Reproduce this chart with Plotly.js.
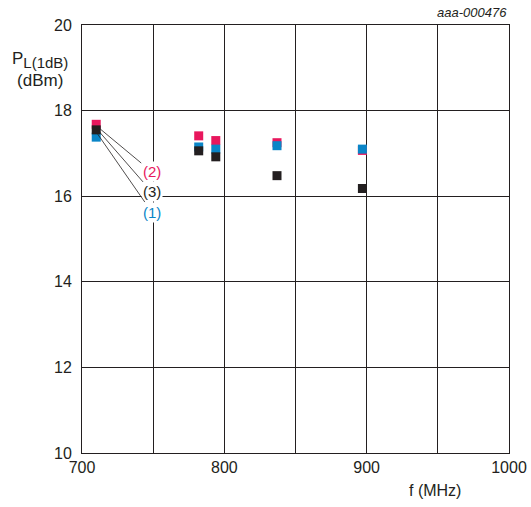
<!DOCTYPE html>
<html><head><meta charset="utf-8">
<script src="https://cdn.plot.ly/plotly-3.0.1.min.js"></script>
<style>body{margin:0;background:#fff}#c{width:531px;height:507px}</style>
</head><body><div id="c"></div>
<script>
const freq = [710, 782, 794, 837, 897];
const series1 = [17.38, 17.15, 17.10, 17.18, 17.10]; // (1) blue
const series2 = [17.68, 17.41, 17.30, 17.25, 17.07]; // (2) pink
const series3 = [17.55, 17.06, 16.92, 16.48, 16.18]; // (3) black
const labels = ['(2)', '(3)', '(1)'];
const labelY = [16.57, 16.10, 15.63];
const labelX = 749;
const colors = {s1:'#0a85c7', s2:'#e8175d', s3:'#231f20'};
const FF = 'Liberation Sans, Arial, sans-serif';

const mk = (y, c, n) => ({x: freq, y: y, type:'scatter', mode:'markers', name:n,
  marker:{symbol:'square', size:9, color:c, line:{width:0}}, cliponaxis:false});

const data = [mk(series2, colors.s2, '(2)'), mk(series1, colors.s1, '(1)'), mk(series3, colors.s3, '(3)')];

const labColors = [colors.s2, colors.s3, colors.s1];
const headY = [17.62, 17.55, 17.45];
const annotations = labels.map((t,i)=>({
  x: 711, y: headY[i], xref:'x', yref:'y', ax: labelX, ay: labelY[i], axref:'x', ayref:'y',
  text: t, showarrow:true, arrowhead:0, arrowwidth:0.8, arrowcolor:'#231f20',
  font:{family:FF, size:15, color:labColors[i]},
  bgcolor:'#fff', borderpad:1
}));
annotations.push(
  {xref:'paper', yref:'paper', x:1.0, y:1.0, yshift:13, xanchor:'right', yanchor:'middle', showarrow:false,
   text:'<i>aaa-000476</i>', font:{family:FF, size:13, color:'#231f20'}},
  {xref:'paper', yref:'paper', x:0, xshift:-12, y:0.895, xanchor:'right', yanchor:'middle', showarrow:false, align:'center',
   text:'P<sub><span style="font-size:15px">L(1dB)</span></sub><br>(dBm)', font:{family:FF, size:17, color:'#231f20'}},
  {xref:'paper', yref:'paper', x:0.827, y:0, yshift:-48, xanchor:'center', yanchor:'bottom', showarrow:false,
   text:'f (MHz)', font:{family:FF, size:16, color:'#231f20'}}
);

const ax = {showline:true, mirror:true, linecolor:'#231f20', linewidth:1, gridcolor:'#231f20', gridwidth:1,
  zeroline:false, ticks:'', tickfont:{family:FF, size:16, color:'#231f20'}, fixedrange:true};

const layout = {
  width:531, height:507, margin:{l:82, r:22, t:25, b:54},
  paper_bgcolor:'#fff', plot_bgcolor:'#fff', showlegend:false,
  xaxis:Object.assign({}, ax, {range:[700,1000], tickvals:[700,800,900,1000],
    ticktext:['700','800','900','1000'], minor:{dtick:50, tick0:700, showgrid:true, gridcolor:'#231f20', gridwidth:1, ticks:''}}),
  yaxis:Object.assign({}, ax, {range:[10,20], dtick:2, tick0:10, ticklabelstandoff:6}),
  annotations: annotations
};
Plotly.newPlot('c', data, layout, {staticPlot:true});
</script></body></html>
